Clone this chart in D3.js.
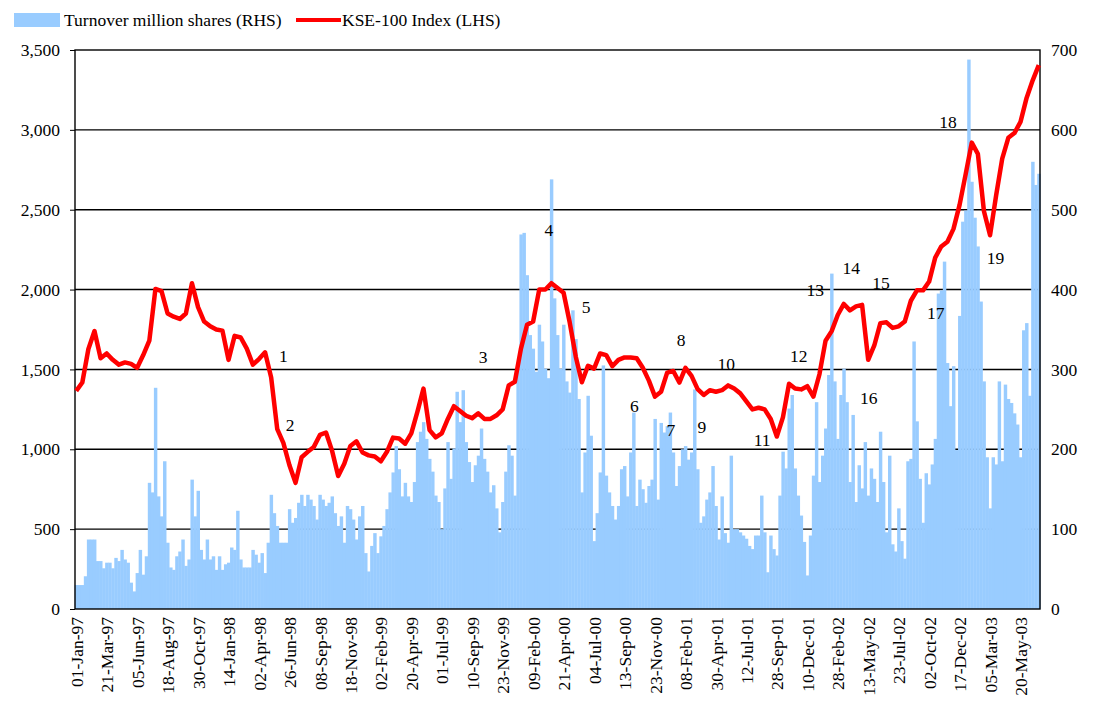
<!DOCTYPE html>
<html>
<head>
<meta charset="utf-8">
<script src="https://cdn.jsdelivr.net/npm/d3@7"></script>
<style>
  body { margin: 0; background: #fff; }
  text { font-family: "Liberation Serif", "Times New Roman", serif; fill: #000; }
</style>
</head>
<body>
<div id="chart"></div>
<script>
// KSE-100 index (LHS), one reading every 10 trading days
var kseIndex = [1366,1418,1628,1740,1570,1600,1560,1530,1544,1535,1510,1590,1680,2004,1990,1850,1830,1816,1850,2040,
  1890,1800,1770,1750,1743,1560,1710,1700,1630,1530,1565,1607,1450,1126,1040,900,790,950,984,1015,
  1090,1105,990,833,910,1021,1050,980,962,955,925,984,1073,1067,1035,1100,1234,1380,1120,1075,
  1100,1190,1270,1240,1210,1195,1225,1190,1190,1213,1250,1400,1423,1630,1780,1800,2000,2000,2040,2010,
  1980,1795,1580,1420,1523,1505,1600,1590,1520,1560,1575,1575,1570,1510,1430,1330,1360,1480,1490,1418,
  1510,1460,1377,1340,1370,1360,1370,1400,1380,1350,1300,1250,1260,1250,1190,1080,1200,1410,1380,1375,
  1395,1330,1470,1680,1740,1841,1910,1870,1895,1904,1560,1650,1790,1795,1760,1770,1800,1930,1995,1995,
  2050,2200,2270,2300,2380,2530,2723,2920,2850,2490,2340,2590,2820,2950,2980,3050,3200,3310,3405];
var kseStep = 10;

// Turnover in million shares (RHS), one reading every 5 trading days
var turnover = [30,30,30,41,87,87,87,60,60,51,58,58,51,64,60,74,62,58,33,22,
  45,74,43,66,158,146,277,141,116,185,83,52,49,66,72,87,54,62,162,116,
  148,74,62,87,62,66,49,66,49,56,58,77,74,123,62,52,52,52,74,68,
  58,70,45,83,143,120,104,83,83,83,125,108,114,133,143,129,143,137,129,112,
  143,137,129,133,141,120,104,116,83,129,125,112,87,116,129,70,47,79,95,70,
  91,104,125,146,171,204,175,141,158,141,134,159,209,222,234,213,188,172,142,134,
  100,151,209,163,201,272,234,274,209,184,159,180,192,226,188,172,146,155,126,96,
  134,172,205,192,142,305,469,471,418,343,326,297,356,335,301,289,538,389,343,301,
  356,285,271,374,338,263,146,196,267,217,85,120,171,305,167,146,129,112,129,175,
  179,141,196,246,129,162,150,133,154,162,238,137,233,221,229,246,196,154,179,200,
  204,187,196,275,175,108,116,137,146,179,129,87,141,95,83,192,100,100,96,92,
  88,79,75,92,92,142,96,46,92,75,67,142,197,176,251,268,176,142,117,84,
  42,92,167,259,159,192,226,293,420,285,213,268,301,259,159,243,134,180,151,209,
  142,176,163,134,222,159,96,192,81,72,126,85,63,185,188,335,235,163,108,170,
  156,181,213,395,399,435,308,254,304,199,367,485,499,688,535,490,454,385,285,190,
  126,190,181,285,185,281,263,258,245,231,190,349,358,267,560,531,545];
var turnoverStep = 5;

// Category labels every 50 trading days
var tickLabels = ["01-Jan-97","21-Mar-97","05-Jun-97","18-Aug-97","30-Oct-97","14-Jan-98","02-Apr-98","26-Jun-98",
  "08-Sep-98","18-Nov-98","02-Feb-99","20-Apr-99","01-Jul-99","10-Sep-99","23-Nov-99","09-Feb-00",
  "21-Apr-00","04-Jul-00","13-Sep-00","23-Nov-00","08-Feb-01","30-Apr-01","12-Jul-01","28-Sep-01",
  "10-Dec-01","28-Feb-02","13-May-02","23-Jul-02","02-Oct-02","17-Dec-02","05-Mar-03","20-May-03"];
var tickStep = 50;

// Event markers: [label, trading day, index level]
var events = [["1",340,1584],["2",351,1152],["3",668,1578],["4",776,2373],["5",837,1891],
  ["6",916,1271],["7",976,1121],["8",993,1684],["9",1027,1139],["10",1067,1534],
  ["11",1126,1058],["12",1186,1584],["13",1213,1997],["14",1272,2135],["15",1321,2041],
  ["16",1301,1321],["17",1411,1853],["18",1431,3049],["19",1509,2197]];

var width = 1096, height = 725;
var plotLeft = 75, plotRight = 1040, plotTop = 50, plotBottom = 609;
var fontSize = "17.5px";

var svg = d3.select("#chart").append("svg")
  .attr("width", width)
  .attr("height", height);

var x = d3.scaleLinear().domain([-2, 1582]).range([plotLeft, plotRight]);
var yL = d3.scaleLinear().domain([0, 3500]).range([plotBottom, plotTop]);
var yR = d3.scaleLinear().domain([0, 700]).range([plotBottom, plotTop]);

// Gridlines (behind the bars)
svg.append("g")
  .selectAll("line")
  .data(d3.range(500, 3500, 500))
  .enter().append("line")
  .attr("x1", plotLeft).attr("x2", plotRight)
  .attr("y1", function(d) { return yL(d); })
  .attr("y2", function(d) { return yL(d); })
  .attr("stroke", "#000")
  .attr("stroke-width", 1.4);

// Turnover bars
var barW = x(turnoverStep) - x(0);
svg.append("g")
  .selectAll("rect")
  .data(turnover)
  .enter().append("rect")
  .attr("x", function(d, i) { return x(i * turnoverStep) - barW / 2; })
  .attr("y", function(d) { return yR(d); })
  .attr("width", barW + 0.4)
  .attr("height", function(d) { return plotBottom - yR(d); })
  .attr("fill", "#99CCFF");

// Plot frame
svg.append("rect")
  .attr("x", plotLeft).attr("y", plotTop)
  .attr("width", plotRight - plotLeft).attr("height", plotBottom - plotTop)
  .attr("fill", "none")
  .attr("stroke", "#000")
  .attr("stroke-width", 1.4);

// KSE-100 line
var line = d3.line()
  .x(function(d, i) { return x(i * kseStep); })
  .y(function(d) { return yL(d); });

svg.append("path")
  .datum(kseIndex)
  .attr("d", line)
  .attr("fill", "none")
  .attr("stroke", "#FF0000")
  .attr("stroke-width", 4.5)
  .attr("stroke-linejoin", "round");

// Left axis
var yAxisL = d3.axisLeft(yL)
  .tickValues(d3.range(0, 3501, 500))
  .tickFormat(d3.format(","))
  .tickSize(5)
  .tickPadding(10);
svg.append("g")
  .attr("transform", "translate(" + plotLeft + ",0)")
  .call(yAxisL)
  .call(function(g) { g.select(".domain").remove(); })
  .selectAll("text")
  .style("font-size", fontSize)
  .style("font-family", "Liberation Serif, serif");

// Right axis
var yAxisR = d3.axisRight(yR)
  .tickValues(d3.range(0, 701, 100))
  .tickSize(0)
  .tickPadding(11);
svg.append("g")
  .attr("transform", "translate(" + plotRight + ",0)")
  .call(yAxisR)
  .call(function(g) { g.select(".domain").remove(); })
  .selectAll("text")
  .style("font-size", fontSize)
  .style("font-family", "Liberation Serif, serif");

// Bottom axis with rotated date labels
var xAxis = d3.axisBottom(x)
  .tickValues(tickLabels.map(function(d, i) { return i * tickStep; }))
  .tickFormat(function(d, i) { return tickLabels[i]; })
  .tickSize(0)
  .tickPadding(0);
svg.append("g")
  .attr("transform", "translate(0," + plotBottom + ")")
  .call(xAxis)
  .call(function(g) { g.select(".domain").remove(); })
  .selectAll("text")
  .style("font-size", fontSize)
  .style("font-family", "Liberation Serif, serif")
  .attr("text-anchor", "end")
  .attr("dy", "0.35em")
  .attr("transform", "translate(0,8) rotate(-90)")
  .attr("x", 0)
  .attr("y", 0);

// Event numbers
svg.append("g")
  .selectAll("text")
  .data(events)
  .enter().append("text")
  .attr("x", function(d) { return x(d[1]); })
  .attr("y", function(d) { return yL(d[2]); })
  .attr("text-anchor", "middle")
  .attr("dy", "0.35em")
  .style("font-size", fontSize)
  .text(function(d) { return d[0]; });

// Legend
var legend = svg.append("g");
legend.append("rect")
  .attr("x", 14).attr("y", 13)
  .attr("width", 46).attr("height", 14)
  .attr("fill", "#99CCFF");
legend.append("text")
  .attr("x", 64).attr("y", 26)
  .style("font-size", fontSize)
  .text("Turnover million shares (RHS)");
legend.append("line")
  .attr("x1", 296).attr("x2", 341)
  .attr("y1", 20).attr("y2", 20)
  .attr("stroke", "#FF0000")
  .attr("stroke-width", 4);
legend.append("text")
  .attr("x", 342).attr("y", 26)
  .style("font-size", fontSize)
  .text("KSE-100 Index (LHS)");
</script>
</body>
</html>
